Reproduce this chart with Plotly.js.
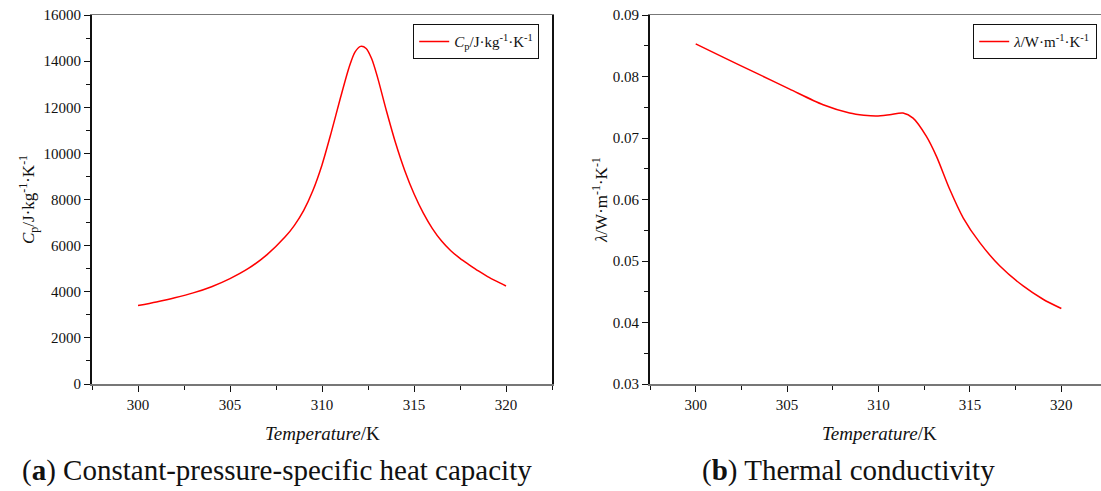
<!DOCTYPE html>
<html>
<head>
<meta charset="utf-8">
<script src="https://cdn.plot.ly/plotly-3.0.1.min.js"></script>
<style>html,body{margin:0;padding:0;background:#fff;}#chart{width:1101px;height:491px;}</style>
</head>
<body>
<div id="chart"></div>
<script>
// Specific heat capacity (left)
const cpTemp = [300, 301, 302, 303, 304, 305, 306, 307, 308, 308.5, 309, 309.5, 310, 310.5, 311, 311.5, 311.8, 312.1, 312.4, 312.7, 313, 313.5, 314, 314.5, 315, 315.5, 316, 316.5, 317, 317.5, 318, 318.5, 319, 319.5, 320];
const cpValues = [3400, 3560, 3740, 3950, 4220, 4570, 5010, 5600, 6380, 6880, 7520, 8380, 9500, 10900, 12400, 13800, 14400, 14640, 14550, 14100, 13350, 11850, 10450, 9250, 8250, 7420, 6740, 6200, 5780, 5450, 5170, 4900, 4660, 4450, 4250];
// Thermal conductivity (right)
const kTemp = [300, 301.49, 303.32, 305.14, 306.97, 308.42, 309.2, 309.88, 310.61, 311.34, 311.89, 312.62, 313.17, 313.9, 314.63, 315.54, 316.64, 317.91, 319.0, 320];
const kValues = [0.0853, 0.08314, 0.08055, 0.07795, 0.07541, 0.07406, 0.07370, 0.07357, 0.07378, 0.07406, 0.07324, 0.07027, 0.06702, 0.06162, 0.05703, 0.05298, 0.04918, 0.04594, 0.04378, 0.04227];
const cpTicks = [0, 2000, 4000, 6000, 8000, 10000, 12000, 14000, 16000];
const kTicks = [0.03, 0.04, 0.05, 0.06, 0.07, 0.08, 0.09];
const tempTicks = [300, 305, 310, 315, 320];

const W = 1101, H = 491;
const serif = 'Liberation Serif';
const tickFont = {family: serif, size: 15, color: '#111'};

const traces = [
  {x: cpTemp, y: cpValues, type: 'scatter', mode: 'lines', line: {color: '#ff0000', width: 1.5, shape: 'spline', smoothing: 0.8},
   name: '<i>C</i><sub>p</sub>/J·kg<sup>-1</sup>·K<sup>-1</sup>', xaxis: 'x', yaxis: 'y', legend: 'legend'},
  {x: kTemp, y: kValues, type: 'scatter', mode: 'lines', line: {color: '#ff0000', width: 1.5, shape: 'spline', smoothing: 0.8},
   name: '<i>λ</i>/W·m<sup>-1</sup>·K<sup>-1</sup>', xaxis: 'x2', yaxis: 'y2', legend: 'legend2'}
];

const yTop = 15, yBot = 384;
const yDom = [1 - yBot / H, 1 - yTop / H];

function xAx(domain, range) {
  return {domain: domain, range: range, tickvals: tempTicks, ticks: 'outside', ticklen: 6, tickcolor: '#111', tickwidth: 1,
    minor: {dtick: 2.5, tick0: 297.5, ticks: 'outside', ticklen: 4, tickcolor: '#111'},
    showline: true, linecolor: '#777', linewidth: 1.5, mirror: true, showgrid: false, zeroline: false,
    tickfont: tickFont, automargin: false, fixedrange: true};
}
function yAx(anchor, range, ticks, fmt, dtickMinor, mirror) {
  return {anchor: anchor, domain: yDom, range: range, tickvals: ticks, tickformat: fmt, ticks: 'outside', ticklen: 6, tickcolor: '#111',
    minor: {dtick: dtickMinor, ticks: 'outside', ticklen: 4, tickcolor: '#111'},
    showline: true, linecolor: '#111', linewidth: 2, mirror: mirror, showgrid: false, zeroline: false,
    tickfont: tickFont, automargin: false, fixedrange: true};
}

const legFont = {family: serif, size: 15, color: '#111'};
const layout = {
  width: W, height: H,
  font: {family: serif},
  margin: {l: 0, r: 0, t: 0, b: 0},
  paper_bgcolor: '#fff', plot_bgcolor: '#fff',
  showlegend: true,
  xaxis: Object.assign(xAx([92 / W, 552 / W], [297.5, 322.5]), {anchor: 'y'}),
  yaxis: yAx('x', [0, 16000], cpTicks, 'd', 1000, true),
  xaxis2: Object.assign(xAx([650 / W, 1], [297.5, 322.17]), {anchor: 'y2'}),
  yaxis2: yAx('x2', [0.03, 0.09], kTicks, '.2f', 0.005, false),
  legend: {x: 539 / W, y: 1 - 24 / H, xanchor: 'right', yanchor: 'top', bordercolor: '#111', borderwidth: 1.2,
    bgcolor: '#fff', font: legFont, itemwidth: 30, tracegroupgap: 0},
  legend2: {x: 1097 / W, y: 1 - 24 / H, xanchor: 'right', yanchor: 'top', bordercolor: '#111', borderwidth: 1.2,
    bgcolor: '#fff', font: legFont, itemwidth: 30, tracegroupgap: 0},
  annotations: [
    {text: '<i>Temperature</i>/K', xref: 'paper', yref: 'paper', x: 322 / W, y: 1 - 433 / H, xanchor: 'center', yanchor: 'middle',
     showarrow: false, font: {family: serif, size: 19, color: '#111'}},
    {text: '<i>Temperature</i>/K', xref: 'paper', yref: 'paper', x: 879 / W, y: 1 - 433 / H, xanchor: 'center', yanchor: 'middle',
     showarrow: false, font: {family: serif, size: 19, color: '#111'}},
    {text: '<i>C</i><sub>p</sub>/J·kg<sup>-1</sup>·K<sup>-1</sup>', xref: 'paper', yref: 'paper', x: 28 / W, y: 1 - 200 / H,
     xanchor: 'center', yanchor: 'middle', textangle: -90, showarrow: false, font: {family: serif, size: 17, color: '#111'}},
    {text: '<i>λ</i>/W·m<sup>-1</sup>·K<sup>-1</sup>', xref: 'paper', yref: 'paper', x: 600 / W, y: 1 - 200 / H,
     xanchor: 'center', yanchor: 'middle', textangle: -90, showarrow: false, font: {family: serif, size: 17, color: '#111'}},
    {text: '(<b>a</b>) Constant-pressure-specific heat capacity', xref: 'paper', yref: 'paper', x: 20 / W, y: 1 - 470 / H,
     xanchor: 'left', yanchor: 'middle', showarrow: false, font: {family: serif, size: 29, color: '#111'}},
    {text: '(<b>b</b>) Thermal conductivity', xref: 'paper', yref: 'paper', x: 700 / W, y: 1 - 470 / H,
     xanchor: 'left', yanchor: 'middle', showarrow: false, font: {family: serif, size: 29, color: '#111'}}
  ]
};

Plotly.newPlot('chart', traces, layout, {displayModeBar: false, staticPlot: true});
</script>
</body>
</html>
